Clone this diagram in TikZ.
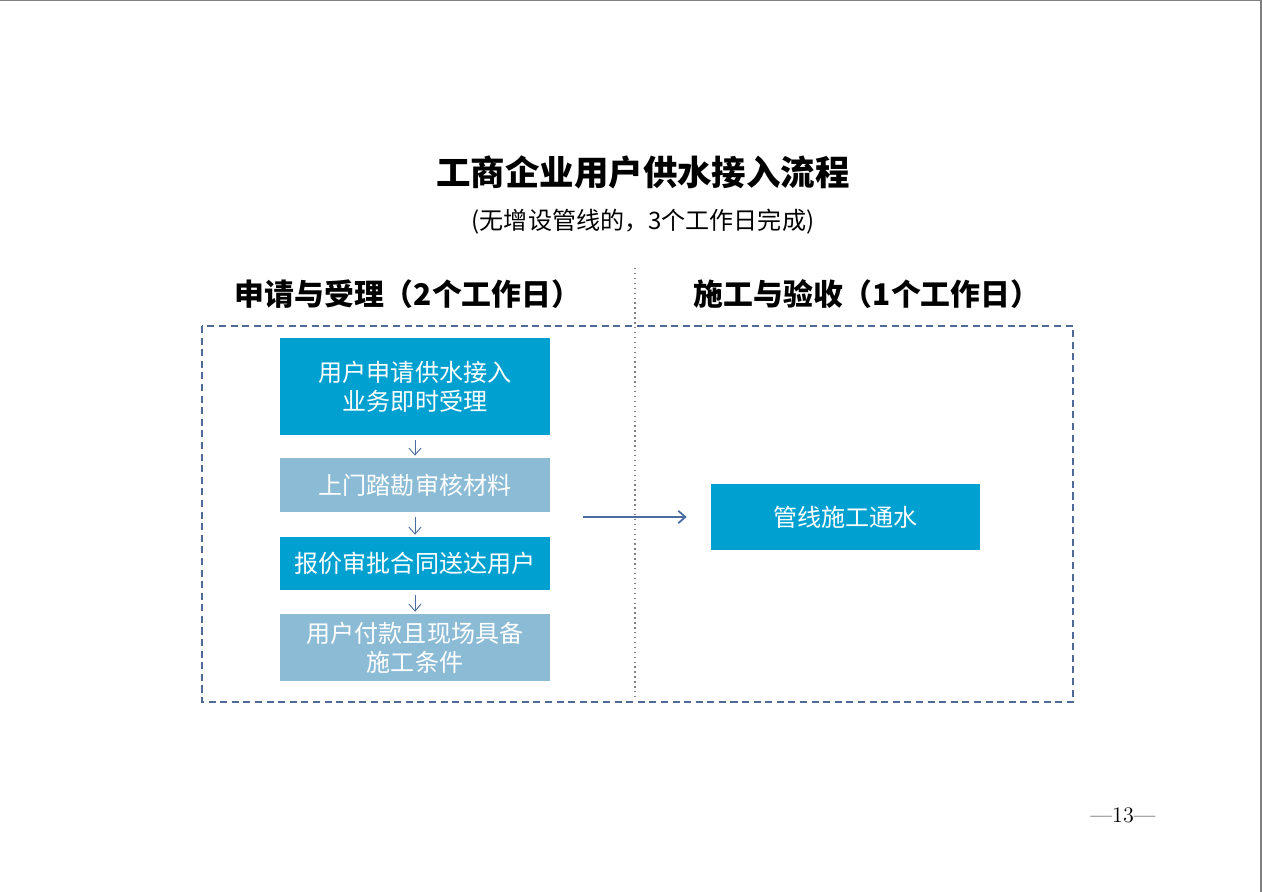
\documentclass[tikz,border=0pt]{standalone}
\usepackage{fontspec}
\usepackage{xcolor}
\usepackage{tikz}
\usetikzlibrary{arrows.meta}
\newfontfamily\cjk{Noto Sans CJK SC}
\definecolor{stepblue}{RGB}{0,161,208}
\definecolor{steplight}{RGB}{140,187,214}
\definecolor{framegray}{RGB}{79,106,150}
\definecolor{arrowblue}{RGB}{74,108,160}

\begin{document}
\begin{tikzpicture}[x=0.02cm, y=-0.02cm,
		every node/.style={font=\cjk, inner sep=0pt},
		stepbox/.style={fill=stepblue, text=white, minimum width=5.4cm, align=center, font=\cjk\fontsize{13.7pt}{16.5pt}\selectfont},
		lightbox/.style={stepbox, fill=steplight},
		flow/.style={draw=arrowblue, line width=0.5pt, -{Straight Barb[length=4pt, width=7pt]}},
		heading/.style={font=\cjk\bfseries\fontsize{17pt}{20pt}\selectfont}]
	\useasboundingbox (0,0) rectangle (1262,892);
	\draw[gray, line width=1pt] (0,0.5) -- (1261,0.5) -- (1261,892);
	% titles
	\node(title) at (643,172) {\cjk\bfseries\fontsize{19.6pt}{23pt}\selectfont 工商企业用户供水接入流程};
	\node(subtitle) at (643,222) {\fontsize{13.7pt}{16pt}\selectfont (无增设管线的，3个工作日完成)};
	\node[heading](apply) at (408,294) {申请与受理（2个工作日）};
	\node[heading](build) at (867,294) {施工与验收（1个工作日）};
	% frame and divider
	\draw[framegray, line width=1.4pt, dash pattern=on 4pt off 2.6pt] (202,326) rectangle (1073,702);
	\draw[gray, line width=0.8pt, dotted] (635,268) -- (635,700);
	% steps
	\node[stepbox, minimum height=1.94cm](accept) at (415,386.5) {用户申请供水接入\\业务即时受理};
	\node[lightbox, minimum height=1.08cm](survey) at (415,485) {上门踏勘审核材料};
	\node[stepbox, minimum height=1.06cm](quote) at (415,563.5) {报价审批合同送达用户};
	\node[lightbox, minimum height=1.34cm](ready) at (415,647.5) {用户付款且现场具备\\施工条件};
	\node[stepbox, minimum height=1.32cm, minimum width=5.38cm](water) at (845.5,517) {管线施工通水};
	\draw[flow, shorten <=0.1cm, shorten >=0.04cm] (accept) -- (survey);
	\draw[flow, shorten <=0.1cm, shorten >=0.04cm] (survey) -- (quote);
	\draw[flow, shorten <=0.1cm, shorten >=0.04cm] (quote) -- (ready);
	\coordinate(start) at (583,517);
	\draw[flow, line width=1pt, shorten >=0.48cm] (start) -- (water.west);
	% page number
	\node(page) at (1123,815) {\rmfamily\fontsize{12.6pt}{15pt}\selectfont ---13---};
\end{tikzpicture}
\end{document}
